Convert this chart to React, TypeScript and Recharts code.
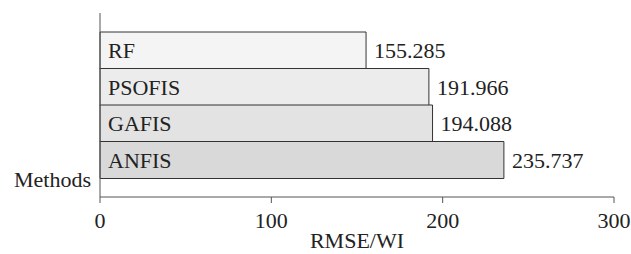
import { BarChart, Bar, XAxis, YAxis, LabelList, Cell, Label } from "recharts";

const methods = ["RF", "PSOFIS", "GAFIS", "ANFIS"];
const rmse = [155.285, 191.966, 194.088, 235.737];
const fills = ["#f4f4f4", "#ececec", "#e3e3e3", "#d9d9d9"];
const xTicks = [0, 100, 200, 300];

const data = methods.map((m, i) => ({ method: m, rmse: rmse[i] }));

const font = "Liberation Serif";
const axisColor = "#555555";
const textStyle = { fill: "#222", fontFamily: font, fontSize: 22 };

// "Methods" sits to the left of the axis, next to the bottom bar
const MethodsLabel = (props: any) => {
  const { viewBox } = props;
  return (
    <text
      x={viewBox.x + viewBox.width - 9}
      y={viewBox.y + viewBox.height - 18}
      textAnchor="end"
      dominantBaseline="central"
      style={textStyle}
    >
      Methods
    </text>
  );
};

export default function App() {
  return (
    <div>
      <style>{"body{margin:0;overflow:hidden}"}</style>
      <BarChart
        width={631}
        height={254}
        data={data}
        layout="vertical"
        margin={{ top: 13, right: 17, bottom: 6, left: 0 }}
        barCategoryGap={0}
      >
        <XAxis
          type="number"
          domain={[0, 300]}
          ticks={xTicks}
          height={51}
          stroke={axisColor}
          tickSize={6}
          tickMargin={9}
          tick={textStyle}
        >
          <Label value="RMSE/WI" position="insideBottom" offset={0} style={textStyle} />
        </XAxis>
        <YAxis
          type="category"
          dataKey="method"
          width={100}
          stroke={axisColor}
          tick={false}
          tickLine={false}
          padding={{ top: 19, bottom: 19 }}
          label={<MethodsLabel />}
        />
        <Bar dataKey="rmse" stroke="#333333" strokeWidth={1} isAnimationActive={false}>
          {data.map((d, i) => (
            <Cell key={d.method} fill={fills[i]} />
          ))}
          <LabelList dataKey="method" position="insideLeft" offset={8} style={textStyle} />
          <LabelList
            dataKey="rmse"
            position="right"
            offset={8}
            formatter={(v: any) => Number(v).toFixed(3)}
            style={textStyle}
          />
        </Bar>
      </BarChart>
    </div>
  );
}
